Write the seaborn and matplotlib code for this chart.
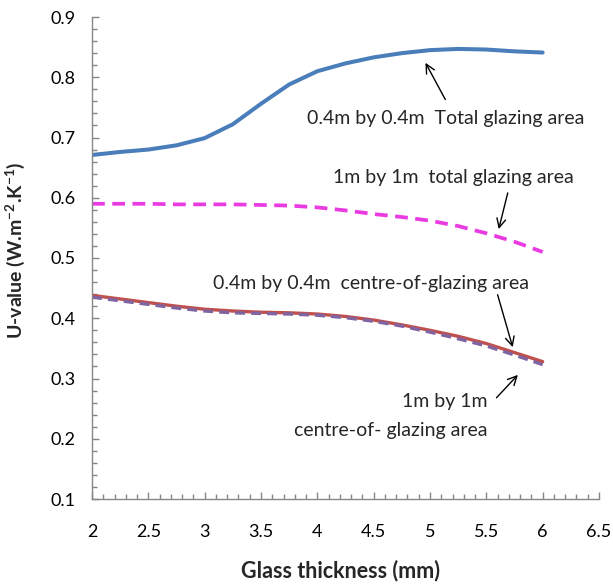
import matplotlib
matplotlib.use("Agg")
import matplotlib.pyplot as plt
import seaborn as sns
import pandas as pd
from matplotlib.ticker import MultipleLocator, FormatStrFormatter, FuncFormatter

# ---- data ----
thickness = [2.0, 2.25, 2.5, 2.75, 3.0, 3.25, 3.5, 3.75, 4.0, 4.25, 4.5, 4.75, 5.0, 5.25, 5.5, 5.75, 6.0]
total_04 = [0.671, 0.676, 0.680, 0.687, 0.699, 0.722, 0.756, 0.788, 0.810, 0.823, 0.833, 0.840, 0.845, 0.847, 0.846, 0.843, 0.841]
total_1 = [0.590, 0.590, 0.590, 0.589, 0.589, 0.589, 0.588, 0.587, 0.584, 0.579, 0.573, 0.568, 0.562, 0.553, 0.541, 0.527, 0.510]
cog_04 = [0.438, 0.432, 0.426, 0.420, 0.415, 0.412, 0.410, 0.409, 0.407, 0.403, 0.397, 0.389, 0.380, 0.370, 0.358, 0.343, 0.328]
cog_1 = [0.435, 0.429, 0.423, 0.417, 0.412, 0.409, 0.408, 0.407, 0.405, 0.401, 0.395, 0.387, 0.377, 0.366, 0.354, 0.339, 0.323]

x_ticks = [2, 2.5, 3, 3.5, 4, 4.5, 5, 5.5, 6, 6.5]
y_ticks = [0.1, 0.2, 0.3, 0.4, 0.5, 0.6, 0.7, 0.8, 0.9]

sns.set_style("white")
plt.rcParams['font.family'] = ['Lato', 'DejaVu Sans']
plt.rcParams['mathtext.default'] = 'regular'

fig = plt.figure(figsize=(6.13, 5.84), dpi=100)
ax = fig.add_axes([92/613, 1-499/584, (599-92)/613, (499-17)/584])

sns.lineplot(x=thickness, y=total_04, ax=ax, color='#4A7EBB', linewidth=2.9, estimator=None, sort=False,
             solid_capstyle='round')
sns.lineplot(x=thickness, y=total_1, ax=ax, color='#EA3BE3', linewidth=2.7, estimator=None, sort=False,
             linestyle=(0, (3.4, 2.0)))
sns.lineplot(x=thickness, y=cog_04, ax=ax, color='#C0504D', linewidth=2.4, estimator=None, sort=False)
sns.lineplot(x=thickness, y=cog_1, ax=ax, color='#8064A2', linewidth=2.4, estimator=None, sort=False,
             linestyle=(0, (3.0, 1.8)))

ax.set_xlim(2, 6.5)
ax.set_ylim(0.1, 0.9)
ax.set_xticks(x_ticks)
ax.set_yticks(y_ticks)
ax.xaxis.set_major_formatter(FuncFormatter(lambda v, p: f"{v:g}"))
ax.yaxis.set_major_formatter(FormatStrFormatter('%.1f'))
ax.xaxis.set_minor_locator(MultipleLocator(0.1))
ax.yaxis.set_minor_locator(MultipleLocator(0.02))

for s in ['top', 'right']:
    ax.spines[s].set_visible(False)
for s in ['left', 'bottom']:
    ax.spines[s].set_color('#868686')
    ax.spines[s].set_linewidth(1.0)

ax.tick_params(axis='both', which='both', left=True, bottom=True)
ax.tick_params(axis='both', which='major', direction='in', length=5, width=1, color='#868686',
               labelsize=13, labelcolor='black')
ax.tick_params(axis='both', which='minor', direction='in', length=3.5, width=1, color='#868686')
ax.tick_params(axis='y', which='major', pad=12)
ax.tick_params(axis='x', which='major', pad=18)

ax.set_xlabel('Glass thickness (mm)', fontsize=15.5, fontweight='bold')
ax.set_ylabel(r'U-value (W.m$^{-2}$.K$^{-1}$)', fontsize=14, fontweight='bold')
ax.xaxis.set_label_coords(0.49, -0.125)
ax.yaxis.set_label_coords(-0.128, 0.515)

fs = 14
ax.text(5.14, 0.731, '0.4m by 0.4m  Total glazing area', fontsize=fs, ha='center', va='center')
ax.text(5.206, 0.633, '1m by 1m  total glazing area', fontsize=fs, ha='center', va='center')
ax.text(4.48, 0.457, '0.4m by 0.4m  centre-of-glazing area', fontsize=fs, ha='center', va='center')
ax.text(5.512, 0.261, '1m by 1m', fontsize=fs, ha='right', va='center')
ax.text(5.512, 0.2145, 'centre-of- glazing area', fontsize=fs, ha='right', va='center')

arrow = dict(arrowstyle='->', color='black', lw=1.0, mutation_scale=16, shrinkA=0, shrinkB=0)
ax.annotate('', xy=(4.96, 0.824), xytext=(5.136, 0.763), arrowprops=arrow)
ax.annotate('', xy=(5.61, 0.548), xytext=(5.69, 0.608), arrowprops=arrow)
ax.annotate('', xy=(5.734, 0.352), xytext=(5.60, 0.439), arrowprops=arrow)
ax.annotate('', xy=(5.78, 0.306), xytext=(5.59, 0.268), arrowprops=arrow)

fig.savefig('out.png', dpi=100)
